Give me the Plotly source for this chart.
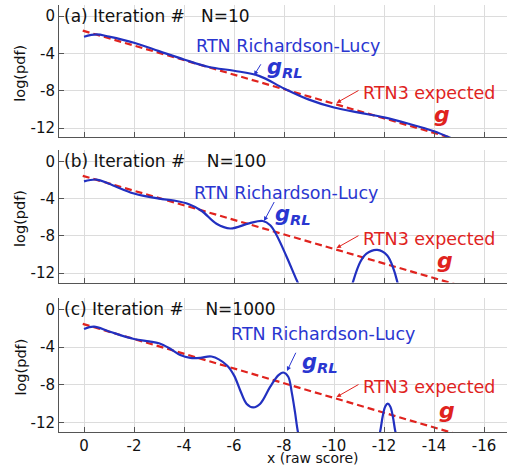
import plotly.graph_objects as go

# ---------------- data ----------------
x_tick_vals = [0, -2, -4, -6, -8, -10, -12, -14, -16]
x_tick_text = ["0", "-2", "-4", "-6", "-8", "-10", "-12", "-14", "-16"]
y_tick_vals = [0, -4, -8, -12]
y_tick_text = ["0", "-4", "-8", "-12"]

# RTN3 expected g (dashed red, straight line)
x_expected = [0.05, -15.0]
y_expected = [-1.55, -13.3]

# (a) N=10
x_rl_10 = [0, -0.5, -1, -2, -3, -4, -5, -6, -7, -8, -9, -10, -11, -12, -13, -14, -14.6, -15.0]
y_rl_10 = [-2.2, -1.95, -2.2, -2.85, -3.75, -4.65, -5.45, -5.85, -6.4, -7.75, -8.95, -9.8,
           -10.35, -10.85, -11.55, -12.35, -13.0, -13.5]

# (b) N=100  (None = pdf falls below the plotted range)
x_rl_100 = [0, -0.5, -1, -2, -3, -3.6, -4.2, -4.7, -5.3, -5.85, -6.6, -7.15, -7.45, -7.7,
            -8.1, -8.5, -8.8, None,
            -10.6, -10.75, -11.05, -11.3, -11.73, -12.13, -12.4, -12.55, -12.7]
y_rl_100 = [-2.15, -1.95, -2.4, -3.45, -4.0, -4.2, -4.6, -5.3, -6.7, -7.2, -6.65, -6.4, -6.85, -7.9,
            -10.2, -12.7, -14.5, None,
            -14.5, -13.0, -10.8, -9.9, -9.5, -10.1, -11.7, -13.1, -14.5]

# (c) N=1000
x_rl_1000 = [0, -0.4, -1, -2, -2.6, -3.0, -3.4, -3.85, -4.25, -4.65, -5.1, -5.7, -6.0, -6.25,
             -6.5, -6.77, -7.05, -7.45, -7.77, -7.97, -8.17, -8.31, -8.44, -8.55, -8.7, None,
             -11.7, -11.85, -11.95, -12.05, -12.15, -12.25, -12.35, -12.45, -12.6]
y_rl_1000 = [-2.1, -1.85, -2.35, -3.15, -3.4, -3.6, -4.1, -4.85, -5.15, -5.15, -5.0, -5.9, -7.0,
             -8.6, -10.0, -10.4, -10.0, -8.2, -7.0, -6.7, -7.15, -8.8, -10.9, -12.9, -14.5, None,
             -14.5, -12.9, -11.3, -10.3, -10.0, -10.3, -11.3, -12.9, -14.5]

panel_titles = ["(a) Iteration #&nbsp;&nbsp;&nbsp;N=10",
                "(b) Iteration #&nbsp;&nbsp;&nbsp;&nbsp;N=100",
                "(c) Iteration #&nbsp;&nbsp;&nbsp;&nbsp;N=1000"]

# ---------------- styling ----------------
FONT = "DejaVu Sans"
BLUE = "#2230c0"
BLUE_TXT = "#2a36d0"
RED = "#e0231e"
GRID = "#dcdcdc"
AXC = "#555555"

fig = go.Figure()

series = [(x_rl_10, y_rl_10), (x_rl_100, y_rl_100), (x_rl_1000, y_rl_1000)]
for i, (xs, ys) in enumerate(series):
    xa = "x" if i == 0 else f"x{i+1}"
    ya = "y" if i == 0 else f"y{i+1}"
    fig.add_trace(go.Scatter(x=x_expected, y=y_expected, mode="lines",
                             line=dict(color=RED, width=2.2, dash="7px,4px"),
                             xaxis=xa, yaxis=ya, showlegend=False, hoverinfo="skip"))
    fig.add_trace(go.Scatter(x=xs, y=ys, mode="lines", connectgaps=False,
                             line=dict(color=BLUE, width=2.2, shape="spline", smoothing=1.0),
                             xaxis=xa, yaxis=ya, showlegend=False, hoverinfo="skip"))

domains = [[0.690, 1.0], [0.350, 0.660], [0.0, 0.314]]
layout = dict(width=507, height=466, margin=dict(l=59, r=0, t=5, b=34),
              paper_bgcolor="white", plot_bgcolor="white",
              font=dict(family=FONT, size=15, color="#111"))
for i in range(3):
    sfx = "" if i == 0 else str(i + 1)
    layout["xaxis" + sfx] = dict(
        domain=[0, 1], anchor="y" + sfx, range=[1, -16.92],
        tickvals=x_tick_vals, ticktext=x_tick_text, showticklabels=(i == 2),
        showgrid=True, gridcolor=GRID, gridwidth=1, zeroline=False,
        showline=True, linecolor=AXC, linewidth=1, ticks="inside", ticklen=5,
        tickcolor=AXC, tickfont=dict(family=FONT, size=15, color="#111"))
    layout["yaxis" + sfx] = dict(
        domain=domains[i], anchor="x" + sfx, range=[-13.0, 1.2],
        tickvals=y_tick_vals, ticktext=y_tick_text,
        showgrid=True, gridcolor=GRID, gridwidth=1, zeroline=False,
        showline=True, linecolor=AXC, linewidth=1, ticks="inside", ticklen=5,
        tickcolor=AXC, tickfont=dict(family=FONT, size=15, color="#111"))
fig.update_layout(**layout)

# annotation positions per panel (data coordinates)
rl_text_pos = [(-8.16, -3.2), (-8.07, -3.35), (-9.54, -2.6)]
grl_pos = [(-7.24, -5.6), (-7.57, -5.75), (-8.64, -5.65)]
blue_arrow = [((-6.8, -6.35), (-7.11, -5.0)),
              ((-7.2, -6.4), (-7.64, -4.2)),
              ((-8.12, -6.55), (-8.5, -4.45))]
exp_text_pos = [(-13.79, -8.2), (-13.79, -8.3), (-13.79, -8.2)]
g_pos = [(-14.3, -10.5), (-14.44, -10.65), (-14.5, -10.75)]

ann = []
for i in range(3):
    xr = "x" if i == 0 else f"x{i+1}"
    yr = "y" if i == 0 else f"y{i+1}"
    ann.append(dict(x=0.88, y=0.0, xref=xr, yref=yr, text=panel_titles[i], showarrow=False,
                    xanchor="left", yanchor="middle", font=dict(family=FONT, size=17, color="#111")))
    ann.append(dict(x=rl_text_pos[i][0], y=rl_text_pos[i][1], xref=xr, yref=yr,
                    text="RTN Richardson-Lucy", showarrow=False, xanchor="center", yanchor="middle",
                    font=dict(family=FONT, size=17.5, color=BLUE_TXT)))
    ann.append(dict(x=grl_pos[i][0], y=grl_pos[i][1], xref=xr, yref=yr,
                    text="<b><i>g</i></b><sub><b><i>RL</i></b></sub>", showarrow=False,
                    xanchor="left", yanchor="middle",
                    font=dict(family=FONT, size=21, color=BLUE_TXT)))
    (hx, hy), (tx, ty) = blue_arrow[i]
    ann.append(dict(x=hx, y=hy, ax=tx, ay=ty, xref=xr, yref=yr, axref=xr, ayref=yr,
                    text="", showarrow=True, arrowhead=2, arrowsize=0.9, arrowwidth=1,
                    arrowcolor=BLUE_TXT))
    ann.append(dict(x=exp_text_pos[i][0], y=exp_text_pos[i][1], xref=xr, yref=yr,
                    text="RTN3 expected", showarrow=False, xanchor="center", yanchor="middle",
                    font=dict(family=FONT, size=17.5, color=RED)))
    ann.append(dict(x=g_pos[i][0], y=g_pos[i][1], xref=xr, yref=yr,
                    text="<b><i>g</i></b>", showarrow=False, xanchor="center", yanchor="middle",
                    font=dict(family=FONT, size=22, color=RED)))
    ann.append(dict(x=-10.1, y=-9.3, ax=-11.04, ay=-7.88, xref=xr, yref=yr, axref=xr, ayref=yr,
                    text="", showarrow=True, arrowhead=2, arrowsize=0.9, arrowwidth=1,
                    arrowcolor=RED))
    # y-axis title
    d0, d1 = domains[i]
    ann.append(dict(x=-0.087, y=(d0 + d1) / 2 - 0.006, xref="paper", yref="paper",
                    text="log(pdf)", textangle=-90, showarrow=False,
                    xanchor="center", yanchor="middle",
                    font=dict(family=FONT, size=14.5, color="#111")))

ann.append(dict(x=-9.16, y=-0.061, xref="x3", yref="paper", text="x (raw score)",
                showarrow=False, xanchor="center", yanchor="middle",
                font=dict(family=FONT, size=14, color="#111")))
fig.update_layout(annotations=ann)

fig.write_html("out.html")
